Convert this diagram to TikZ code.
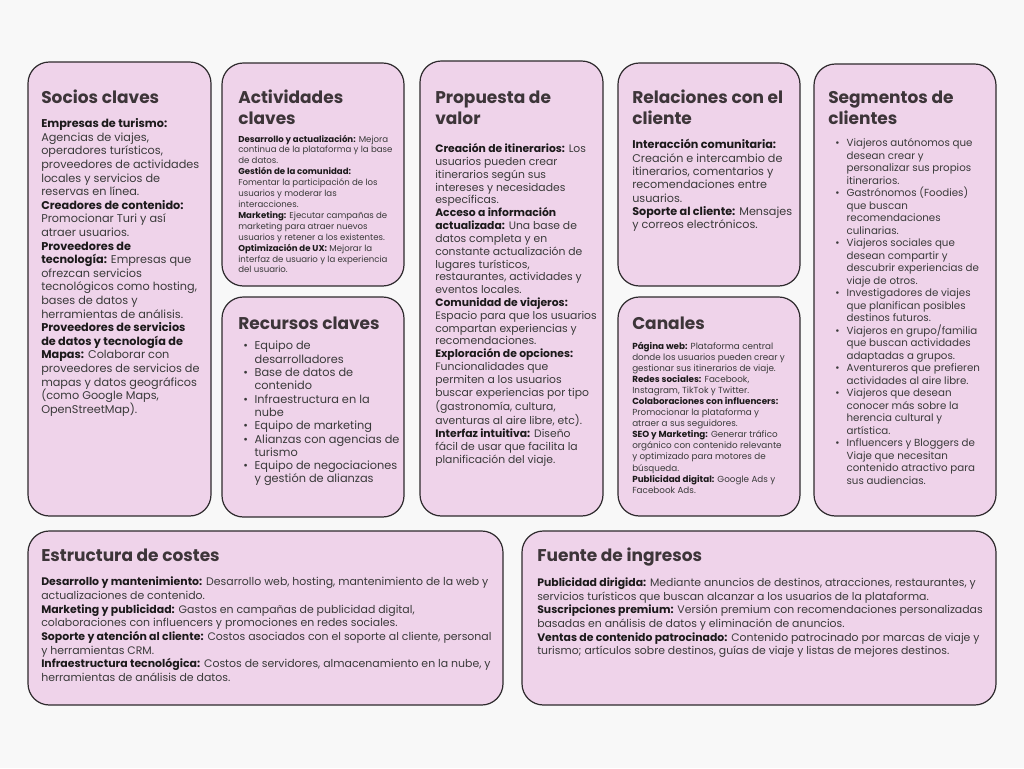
\documentclass[tikz,border=0pt]{standalone}
\usepackage{fontspec}
\setmainfont{Poppins}
\definecolor{bgc}{HTML}{F8F8F8}
\definecolor{boxfill}{HTML}{EFD3EA}
\definecolor{boxline}{HTML}{2E2A2D}
\definecolor{titlec}{HTML}{3D3539}
\definecolor{bodyc}{HTML}{3A3A3A}
\definecolor{labc}{HTML}{1C1A1B}
\newcommand\lab[1]{{\bfseries\color{labc}#1}}
\newcommand\st{\rule{0pt}{1em}}
\newcommand\bul{\makebox[8.5pt][l]{•}}
\newcommand\ind{\hspace*{8.5pt}}
\tikzset{
  box/.style={draw=boxline, fill=boxfill, line width=0.9pt, rounded corners=16pt},
  ttl/.style={anchor=north west, inner sep=0pt, align=left, text=titlec,
    font=\fontsize{12.75pt}{15.75pt}\selectfont\bfseries},
  body/.style={anchor=north west, inner sep=0pt, align=left, text=bodyc}
}
\begin{document}
\begin{tikzpicture}[x=0.75pt,y=-0.75pt]
\fill[bgc] (0,0) rectangle (1024,768);
\useasboundingbox (0,0) rectangle (1024,768);
% boxes
\draw[box] (28,62) rectangle (211,516);
\draw[box] (222,63) rectangle (404,286);
\draw[box] (222,297) rectangle (404,517);
\draw[box] (420,61) rectangle (603,516);
\draw[box] (618,63) rectangle (800,286);
\draw[box] (618,297) rectangle (800,516);
\draw[box] (814,64) rectangle (996,516);
\draw[box] (28,531) rectangle (503,705);
\draw[box] (522,531) rectangle (996,705);
% titles
\node[ttl] (t1) at (41,86) {\st Socios claves};
\node[ttl] (t2) at (238,86) {\st Actividades\\claves};
\node[ttl] (t3) at (238,312) {\st Recursos claves};
\node[ttl] (t4) at (435,86) {\st Propuesta de\\valor};
\node[ttl] (t5) at (632,86) {\st Relaciones con el\\cliente};
\node[ttl] (t6) at (632,312) {\st Canales};
\node[ttl] (t7) at (828,86) {\st Segmentos de\\clientes};
\node[ttl] (t8) at (41,544) {\st Estructura de costes};
\node[ttl] (t9) at (537,544) {\st Fuente de ingresos};
% bodies
\node[body, font=\fontsize{8.45pt}{10.2pt}\selectfont] (b1) at (41,116.2) {\st\lab{Empresas de turismo:}\\
Agencias de viajes,\\
operadores turísticos,\\
proveedores de actividades\\
locales y servicios de\\
reservas en línea.\\
\lab{Creadores de contenido:}\\
Promocionar Turi y así\\
atraer usuarios.\\
\lab{Proveedores de}\\
\lab{tecnología:} Empresas que\\
ofrezcan servicios\\
tecnológicos como hosting,\\
bases de datos y\\
herramientas de análisis.\\
\lab{Proveedores de servicios}\\
\lab{de datos y tecnología de}\\
\lab{Mapas:} Colaborar con\\
proveedores de servicios de\\
mapas y datos geográficos\\
(como Google Maps,\\
OpenStreetMap).};
\node[body, font=\fontsize{6.45pt}{8.18pt}\selectfont] (b2) at (238,133.2) {\st\lab{Desarrollo y actualización:} Mejora\\
continua de la plataforma y la base\\
de datos.\\
\lab{Gestión de la comunidad:}\\
Fomentar la participación de los\\
usuarios y moderar las\\
interacciones.\\
\lab{Marketing:} Ejecutar campañas de\\
marketing para atraer nuevos\\
usuarios y retener a los existentes.\\
\lab{Optimización de UX:} Mejorar la\\
interfaz de usuario y la experiencia\\
del usuario.};
\node[body, font=\fontsize{8.5pt}{9.98pt}\selectfont] (b3) at (243,338.3) {\st\bul Equipo de\\
\ind desarrolladores\\
\bul Base de datos de\\
\ind contenido\\
\bul Infraestructura en la\\
\ind nube\\
\bul Equipo de marketing\\
\bul Alianzas con agencias de\\
\ind turismo\\
\bul Equipo de negociaciones\\
\ind y gestión de alianzas};
\node[body, font=\fontsize{8.1pt}{9.62pt}\selectfont] (b4) at (435,141.5) {\st\lab{Creación de itinerarios:} Los\\
usuarios pueden crear\\
itinerarios según sus\\
intereses y necesidades\\
específicas.\\
\lab{Acceso a información}\\
\lab{actualizada:} Una base de\\
datos completa y en\\
constante actualización de\\
lugares turísticos,\\
restaurantes, actividades y\\
eventos locales.\\
\lab{Comunidad de viajeros:}\\
Espacio para que los usuarios\\
compartan experiencias y\\
recomendaciones.\\
\lab{Exploración de opciones:}\\
Funcionalidades que\\
permiten a los usuarios\\
buscar experiencias por tipo\\
(gastronomía, cultura,\\
aventuras al aire libre, etc).\\
\lab{Interfaz intuitiva:} Diseño\\
fácil de usar que facilita la\\
planificación del viaje.};
\node[body, font=\fontsize{8.4pt}{9.98pt}\selectfont] (b5) at (632,137.3) {\st\lab{Interacción comunitaria:}\\
Creación e intercambio de\\
itinerarios, comentarios y\\
recomendaciones entre\\
usuarios.\\
\lab{Soporte al cliente:} Mensajes\\
y correos electrónicos.};
\node[body, font=\fontsize{6.6pt}{8.31pt}\selectfont] (b6) at (632,340.1) {\st\lab{Página web:} Plataforma central\\
donde los usuarios pueden crear y\\
gestionar sus itinerarios de viaje.\\
\lab{Redes sociales:} Facebook,\\
Instagram, TikTok y Twitter.\\
\lab{Colaboraciones con influencers:}\\
Promocionar la plataforma y\\
atraer a sus seguidores.\\
\lab{SEO y Marketing:} Generar tráfico\\
orgánico con contenido relevante\\
y optimizado para motores de\\
búsqueda.\\
\lab{Publicidad digital:} Google Ads y\\
Facebook Ads.};
\node[body, font=\fontsize{7.7pt}{9.38pt}\selectfont] (b7) at (835,136) {\st\bul Viajeros autónomos que\\
\ind desean crear y\\
\ind personalizar sus propios\\
\ind itinerarios.\\
\bul Gastrónomos (Foodies)\\
\ind que buscan\\
\ind recomendaciones\\
\ind culinarias.\\
\bul Viajeros sociales que\\
\ind desean compartir y\\
\ind descubrir experiencias de\\
\ind viaje de otros.\\
\bul Investigadores de viajes\\
\ind que planifican posibles\\
\ind destinos futuros.\\
\bul Viajeros en grupo/familia\\
\ind que buscan actividades\\
\ind adaptadas a grupos.\\
\bul Aventureros que prefieren\\
\ind actividades al aire libre.\\
\bul Viajeros que desean\\
\ind conocer más sobre la\\
\ind herencia cultural y\\
\ind artística.\\
\bul Influencers y Bloggers de\\
\ind Viaje que necesitan\\
\ind contenido atractivo para\\
\ind sus audiencias.};
\node[body, font=\fontsize{8.2pt}{10.28pt}\selectfont] (b8) at (41,574.5) {\st\lab{Desarrollo y mantenimiento:} Desarrollo web, hosting, mantenimiento de la web y\\
actualizaciones de contenido.\\
\lab{Marketing y publicidad:} Gastos en campañas de publicidad digital,\\
colaboraciones con influencers y promociones en redes sociales.\\
\lab{Soporte y atención al cliente:} Costos asociados con el soporte al cliente, personal\\
y herramientas CRM.\\
\lab{Infraestructura tecnológica:} Costos de servidores, almacenamiento en la nube, y\\
herramientas de análisis de datos.};
\node[body, font=\fontsize{8.15pt}{10.2pt}\selectfont] (b9) at (537,575.5) {\st\lab{Publicidad dirigida:} Mediante anuncios de destinos, atracciones, restaurantes, y\\
servicios turísticos que buscan alcanzar a los usuarios de la plataforma.\\
\lab{Suscripciones premium:} Versión premium con recomendaciones personalizadas\\
basadas en análisis de datos y eliminación de anuncios.\\
\lab{Ventas de contenido patrocinado:} Contenido patrocinado por marcas de viaje y\\
turismo; artículos sobre destinos, guías de viaje y listas de mejores destinos.};
\end{tikzpicture}
\end{document}
